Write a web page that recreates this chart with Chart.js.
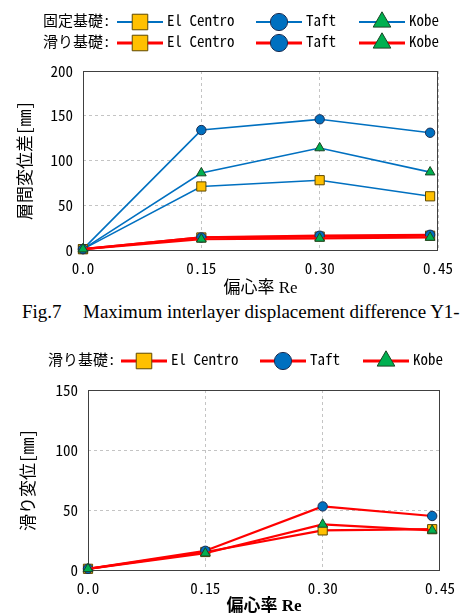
<!DOCTYPE html>
<html>
<head>
<meta charset="utf-8">
<script src="https://cdn.jsdelivr.net/npm/chart.js@4.4.0/dist/chart.umd.min.js"></script>
<style>
  body { margin: 0; background: #fff; width: 464px; height: 615px; overflow: hidden; position: relative; }
  canvas { position: absolute; left: 0; }
  #c1 { top: 0; }
  #c2 { top: 330px; }
  .cap { position: absolute; top: 301px; font: 19px "Liberation Serif", serif; line-height: 22px; white-space: nowrap; color: #000; }
</style>
</head>
<body>
<canvas id="c1" width="464" height="300"></canvas>
<div class="cap" style="left:22px">Fig.7</div>
<div class="cap" style="left:83px">Maximum interlayer displacement difference Y1-</div>
<canvas id="c2" width="464" height="300"></canvas>
<script>
// 偏心率 Re
const re = [0, 0.15, 0.30, 0.44];
const reTicks = [0, 0.15, 0.30, 0.45];
const reTickLabels = ['0.0', '0.15', '0.30', '0.45'];

// 層間変位差 [mm] : 固定基礎
const fixedElCentro = [1, 71, 78, 60];
const fixedTaft = [1, 134, 146, 131];
const fixedKobe = [1, 86, 114, 87];
// 層間変位差 [mm] : 滑り基礎
const slideElCentro = [1, 14, 15, 16];
const slideTaft = [1, 14, 16, 17];
const slideKobe = [1, 12, 13, 14];

// 滑り変位 [mm]
const slipElCentro = [1, 15, 33, 34];
const slipTaft = [1, 16, 53, 45];
const slipKobe = [1, 14, 38, 33];

const MONO = '"Noto Sans Mono CJK JP", "DejaVu Sans Mono", monospace';
const BLUE = '#0070C0';
const RED = '#FF0000';

const markers = {
  'El Centro': { pointStyle: 'rect', radius: 6.5, fill: '#FFC000', edge: '#5e4800', legendRadius: 11 },
  'Taft': { pointStyle: 'circle', radius: 4.7, fill: '#0070C0', edge: '#1b2d52', legendRadius: 8.6 },
  'Kobe': { pointStyle: 'triangle', radius: 5.6, fill: '#00B050', edge: '#1b4526', legendRadius: 10.2 }
};

function makeSet(label, values, color, width, order) {
  const m = markers[label];
  return {
    label: label,
    data: values.map((v, i) => ({ x: re[i], y: v })),
    borderColor: color,
    borderWidth: width,
    pointStyle: m.pointStyle,
    pointRadius: m.radius,
    pointBackgroundColor: m.fill,
    pointBorderColor: m.edge,
    pointBorderWidth: 1,
    legendRadius: m.legendRadius,
    clip: false,
    order: order
  };
}

// legend rows: "固定基礎:  ─■─ El Centro ..." drawn above the plot
const rowLegend = {
  id: 'rowLegend',
  afterDraw(chart, args, opts) {
    const ctx = chart.ctx;
    ctx.save();
    ctx.font = '15px ' + MONO;
    ctx.textBaseline = 'middle';
    ctx.textAlign = 'left';
    opts.rows.forEach(row => {
      ctx.fillStyle = '#000';
      ctx.fillText(row.prefix, opts.prefixX, row.y - 2);
      row.sets.forEach((di, k) => {
        const ds = chart.data.datasets[di];
        const x0 = opts.itemX[k];
        ctx.strokeStyle = ds.borderColor;
        ctx.lineWidth = ds.borderWidth + 0.6;
        ctx.beginPath();
        ctx.moveTo(x0, row.y);
        ctx.lineTo(x0 + 46, row.y);
        ctx.stroke();
        ctx.fillStyle = ds.pointBackgroundColor;
        ctx.strokeStyle = ds.pointBorderColor;
        ctx.lineWidth = 1;
        Chart.helpers.drawPoint(ctx, { pointStyle: ds.pointStyle, radius: ds.legendRadius, rotation: 0, borderWidth: 1 }, x0 + 23, row.y);
        ctx.fillStyle = '#000';
        ctx.fillText(ds.label, x0 + 50, row.y - 2);
      });
    });
    ctx.restore();
  }
};

// solid frame round the plot area
const frame = {
  id: 'frame',
  beforeDatasetsDraw(chart) {
    const { ctx, chartArea: a } = chart;
    ctx.save();
    ctx.strokeStyle = '#404040';
    ctx.lineWidth = 1;
    ctx.strokeRect(a.left + 0.5, a.top + 0.5, a.right - a.left - 1, a.bottom - a.top);
    ctx.restore();
  }
};

function makeOptions(o) {
  return {
    responsive: false,
    animation: false,
    events: [],
    layout: { padding: o.pad },
    plugins: {
      legend: { display: false },
      tooltip: { enabled: false },
      rowLegend: o.legend
    },
    scales: {
      x: {
        type: 'linear',
        min: 0,
        max: 0.45,
        afterBuildTicks: s => { s.ticks = reTicks.map(v => ({ value: v })); },
        afterFit: s => { s.height = o.xHeight; },
        grid: { color: '#c4c4c4', drawTicks: false },
        border: { display: false, dash: [3, 3] },
        ticks: {
          padding: 9,
          color: '#000',
          font: { family: MONO, size: 15 },
          callback: (v, i) => reTickLabels[i]
        },
        title: {
          display: true,
          text: '偏心率 Re',
          color: '#000',
          font: { family: '"Liberation Serif", "Noto Sans CJK JP", serif', size: 17, weight: o.xTitleWeight },
          padding: { top: 0, bottom: o.xTitlePad }
        }
      },
      y: {
        min: 0,
        max: o.yMax,
        afterFit: s => { s.width = o.yWidth; },
        grid: { color: '#c4c4c4', drawTicks: false },
        border: { display: false, dash: [3, 3] },
        ticks: {
          stepSize: 50,
          padding: 10,
          color: '#000',
          font: { family: MONO, size: 15 }
        },
        title: {
          display: true,
          text: o.yTitle,
          color: '#000',
          font: { family: MONO, size: 17 },
          padding: { top: o.yTitlePad, bottom: 0 }
        }
      }
    }
  };
}

new Chart(document.getElementById('c1'), {
  type: 'line',
  data: {
    datasets: [
      makeSet('El Centro', fixedElCentro, BLUE, 1.6, 5),
      makeSet('Taft', fixedTaft, BLUE, 1.6, 4),
      makeSet('Kobe', fixedKobe, BLUE, 1.6, 3),
      makeSet('El Centro', slideElCentro, RED, 2.2, 2),
      makeSet('Taft', slideTaft, RED, 2.2, 1),
      makeSet('Kobe', slideKobe, RED, 2.2, 0)
    ]
  },
  options: makeOptions({
    pad: { top: 71, right: 26, left: 0, bottom: 0 },
    yMax: 200,
    yWidth: 83,
    xHeight: 50,
    yTitle: '層間変位差[mm]',
    yTitlePad: 14,
    xTitlePad: 1,
    xTitleWeight: 'normal',
    legend: {
      prefixX: 43,
      itemX: [117, 256, 359],
      rows: [
        { prefix: '固定基礎:', y: 22, sets: [0, 1, 2] },
        { prefix: '滑り基礎:', y: 43, sets: [3, 4, 5] }
      ]
    }
  }),
  plugins: [rowLegend, frame]
});

new Chart(document.getElementById('c2'), {
  type: 'line',
  data: {
    datasets: [
      makeSet('El Centro', slipElCentro, RED, 2.2, 2),
      makeSet('Taft', slipTaft, RED, 2.2, 1),
      makeSet('Kobe', slipKobe, RED, 2.2, 0)
    ]
  },
  options: makeOptions({
    pad: { top: 60, right: 23, left: 0, bottom: 0 },
    yMax: 150,
    yWidth: 88,
    xHeight: 60,
    yTitle: '滑り変位[mm]',
    yTitlePad: 17,
    xTitlePad: 13,
    xTitleWeight: 'bold',
    legend: {
      prefixX: 48,
      itemX: [121, 260, 363],
      rows: [
        { prefix: '滑り基礎:', y: 31, sets: [0, 1, 2] }
      ]
    }
  }),
  plugins: [rowLegend, frame]
});
</script>
</body>
</html>
